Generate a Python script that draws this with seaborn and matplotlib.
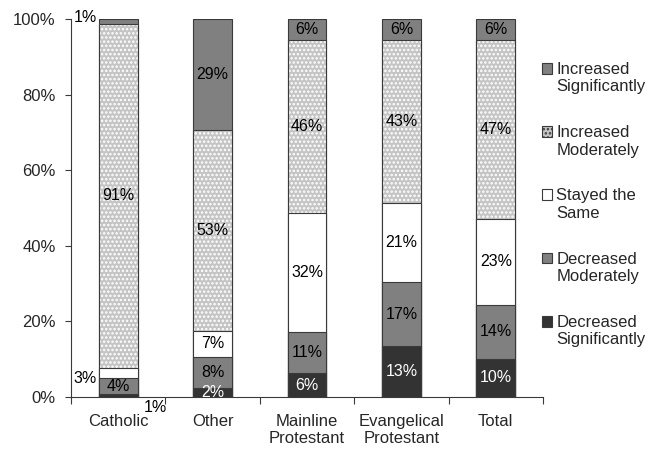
import numpy as np
import pandas as pd
import matplotlib
matplotlib.use("Agg")
import matplotlib.pyplot as plt
import matplotlib.ticker as mtick
from matplotlib.patches import Patch, Rectangle
from matplotlib.legend_handler import HandlerPatch
import seaborn as sns

# ==== Data (bottom segment first) ====
categories = ["Catholic", "Other", "Mainline\nProtestant", "Evangelical\nProtestant", "Total"]
decreased_significantly = [0.8, 2.4, 6.3, 13.4, 10.1]
decreased_moderately = [4.2, 8.2, 11.0, 17.0, 14.3]
stayed_same = [2.8, 6.9, 31.5, 20.8, 22.7]
increased_moderately = [91.0, 53.1, 45.6, 43.2, 47.3]
increased_significantly = [1.2, 29.4, 5.6, 5.6, 5.6]

series_names = ["Decreased\nSignificantly", "Decreased\nModerately", "Stayed the\nSame",
                "Increased\nModerately", "Increased\nSignificantly"]
series_values = [decreased_significantly, decreased_moderately, stayed_same,
                 increased_moderately, increased_significantly]
series_colors = ["#333333", "#808080", "#ffffff", "#c4c4c4", "#808080"]
label_colors = ["white", "black", "black", "black", "black"]

df = pd.DataFrame({name: vals for name, vals in zip(series_names, series_values)})
cum = df.cumsum(axis=1)
cum["category"] = categories

# ==== Style ====
sns.set_style("ticks")
plt.rcParams["font.family"] = ["Liberation Sans", "DejaVu Sans"]
plt.rcParams["hatch.linewidth"] = 1.2

edge = "#3a3a3a"
fig = plt.figure(figsize=(6.67, 4.49), dpi=100)
ax = fig.add_axes([0.1066, 0.1158, 0.7074, 0.8419])

bw = 0.41
# draw cumulative bars from the top segment down
for i in range(len(series_names) - 1, -1, -1):
    col = series_names[i]
    if i == 3:
        sns.barplot(data=cum, x="category", y=col, color=series_colors[i], saturation=1,
                    edgecolor="white", linewidth=0, hatch="....", width=bw,
                    errorbar=None, ax=ax)
        sns.barplot(data=cum, x="category", y=col, color=edge, fill=False,
                    linewidth=0.8, width=bw, errorbar=None, ax=ax)
    else:
        sns.barplot(data=cum, x="category", y=col, color=series_colors[i], saturation=1,
                    edgecolor=edge, linewidth=0.8, width=bw, errorbar=None, ax=ax)

# ==== Segment labels ====
for j, cat in enumerate(categories):
    bottom = 0.0
    for i, name in enumerate(series_names):
        v = series_values[i][j]
        txt = f"{v:.0f}%"
        x, y, ha = j, bottom + v / 2, "center"
        if j == 0 and i == 0:
            x, y, ha = 0.27, -2.9, "left"
        elif j == 0 and i == 2:
            x, y, ha = -0.23, 4.8, "right"
        elif j == 0 and i == 4:
            x, y, ha = -0.23, 100.3, "right"
        color = label_colors[i] if ha == "center" else "black"
        ax.text(x, y, txt, ha=ha, va="center", fontsize=11.5, color=color, zorder=5)
        bottom += v

# ==== Axes ====
ax.set_xlim(-0.5, len(categories) - 0.5)
ax.set_ylim(0, 100)
ax.set_yticks(np.arange(0, 101, 20))
ax.yaxis.set_major_formatter(mtick.PercentFormatter(decimals=0))
ax.set_xlabel("")
ax.set_ylabel("")
ax.set_xticks(np.arange(-0.5, len(categories), 1.0), minor=True)
ax.tick_params(axis="x", which="major", length=0, pad=12, labelsize=12)
ax.tick_params(axis="x", which="minor", length=5, width=0.8, color=edge)
ax.tick_params(axis="y", length=4, width=0.8, color=edge, pad=7, labelsize=12)
for s in ["top", "right"]:
    ax.spines[s].set_visible(False)
for s in ["left", "bottom"]:
    ax.spines[s].set_color(edge)
    ax.spines[s].set_linewidth(0.8)


# ==== Legend (squares aligned with first line) ====
class TopSquare(HandlerPatch):
    def create_artists(self, legend, orig_handle, xdescent, ydescent, width, height,
                       fontsize, trans):
        p = Rectangle((-xdescent, -ydescent + 0.6 * fontsize), width, height,
                      facecolor=orig_handle.get_facecolor(), edgecolor=edge,
                      hatch=orig_handle.get_hatch(), linewidth=0.8, transform=trans)
        return [p]


handles = []
for i in range(len(series_names) - 1, -1, -1):
    handles.append(Patch(facecolor=series_colors[i], hatch="...." if i == 3 else None,
                         label=series_names[i]))
fig.legend(handles=handles, loc="upper left", bbox_to_anchor=(0.8126, 0.862),
           frameon=False, fontsize=12, handlelength=0.6, handleheight=0.6,
           handletextpad=0.25, labelspacing=1.85, borderpad=0, borderaxespad=0,
           handler_map={Patch: TopSquare()})

fig.savefig("out.png", dpi=100)
